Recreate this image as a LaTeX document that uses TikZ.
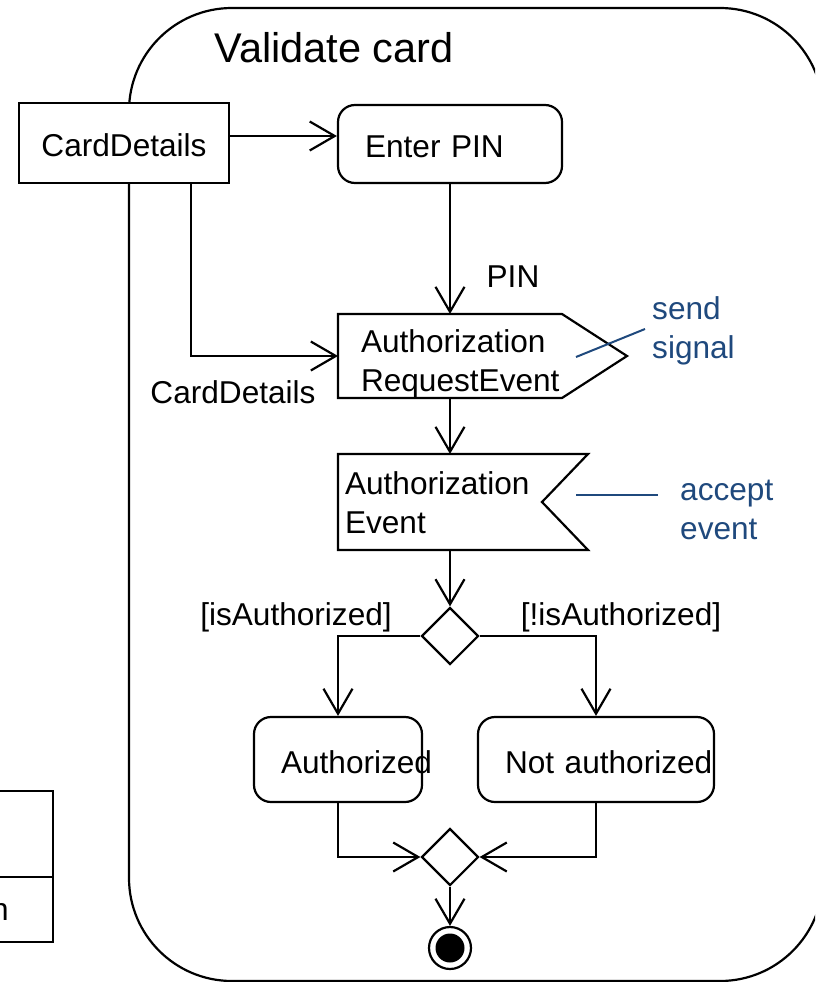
\documentclass[tikz,border=0pt]{standalone}
\usepackage{fontspec}
\setmainfont{Liberation Sans}
\usetikzlibrary{arrows.meta,shapes.geometric}
\definecolor{noteblue}{RGB}{31,73,125}
\hyphenpenalty=10000
\exhyphenpenalty=10000
\begin{document}
\begin{tikzpicture}[x=1pt,y=-1pt,
  every node/.style={font=\fontsize{31.6pt}{39pt}\selectfont},
  ln/.style={line width=2.2pt},
  flow/.style={line width=2.2pt, -{Straight Barb[length=25pt,width=29pt]}},
  objbox/.style={draw, line width=2.2pt, fill=white, rectangle, minimum width=210pt, minimum height=80pt, inner sep=0pt, text height=27pt, text depth=0pt},
  actbox/.style={draw, line width=2.2pt, rectangle, rounded corners=17pt, inner xsep=27pt, inner ysep=0pt, align=left, text height=27pt, text depth=0pt},
  sigbox/.style={rectangle, inner ysep=0pt, outer sep=0pt, align=left},
  dia/.style={draw, line width=2.2pt, diamond, aspect=1, minimum size=57pt, inner sep=0pt},
  guard/.style={inner sep=0pt},
  note/.style={text=noteblue, align=left, inner sep=0pt},
  noteline/.style={draw=noteblue, line width=2pt}
]
\useasboundingbox (0,0) rectangle (815,982);
\clip (0,0) rectangle (815,982);

% activity region
\draw[ln, rounded corners=103pt] (129,8) rectangle (823,981);
\node[inner sep=0pt, font=\fontsize{41.5pt}{48pt}\selectfont] (title) at (334,48) {Validate card};

% partial box at bottom left
\draw[ln] (-60,791) rectangle (53,942);
\draw[ln] (-60,877) -- (53,877);
\node[inner sep=0pt, anchor=base east] (partial) at (9,920) {n};

% nodes
\node[objbox] (card) at (124,143) {CardDetails};
\node[actbox, minimum width=224pt, minimum height=78pt, text width=170pt] (enter) at (450,144) {Enter PIN};
\node[sigbox, minimum width=224pt, minimum height=84pt, inner xsep=23pt, text width=178pt] (req) at (450,356) {\rule{0pt}{38pt}Authorization\\RequestEvent};
\draw[ln] (req.north west) -- (req.north east) -- ([xshift=65pt]req.east) -- (req.south east) -- (req.south west) -- cycle;
\node[sigbox, minimum width=250pt, minimum height=96pt, inner xsep=7pt, text width=236pt] (acc) at (463,502) {\rule{0pt}{25pt}Authorization\\Event};
\draw[ln] (acc.north west) -- (acc.north east) -- ([xshift=-46pt]acc.east) -- (acc.south east) -- (acc.south west) -- cycle;
\node[dia] (dec) at (450,636) {};
\node[actbox, minimum width=168pt, minimum height=85pt, text width=114pt] (auth) at (338,759.5) {Authorized};
\node[actbox, minimum width=236pt, minimum height=85pt, text width=182pt] (nauth) at (596,759.5) {Not~authorized};
\node[dia] (merge) at (450,857) {};
\node[draw, line width=2.2pt, circle, minimum size=42pt, inner sep=0pt] (fin) at (450,948) {};
\fill (fin.center) circle[radius=14.5pt];

% connectors
\draw[flow] ([yshift=7pt]card.east) -- ([yshift=7pt]card.east -| enter.west);
\draw[flow] ([xshift=67pt]card.south) |- (req.west);
\node[guard] (cdlabel) at (233,392) {CardDetails};
\draw[flow] (enter.south) -- (enter.south |- req.north);
\node[guard] (pinlabel) at (513,277) {PIN};
\draw[flow] (enter.south |- req.south) -- (enter.south |- acc.north);
\draw[flow] (acc.south -| dec.north) -- (dec.north);
\draw[flow] (dec.west) -| (auth.north);
\draw[flow] (dec.east) -| (nauth.north);
\node[guard] (g1) at (296,617) {[isAuthorized]};
\node[guard] (g2) at (621,617) {[!isAuthorized]};
\draw[flow] (auth.south) |- (merge.west);
\draw[flow] (nauth.south) |- (merge.east);
\draw[flow] (merge.south) -- (fin.north);

% notes
\node[note, anchor=west] (sendnote) at (652,331) {send\\signal};
\coordinate (sendstart) at (645,329);
\coordinate (sendend) at (576,357);
\draw[noteline] (sendstart) -- (sendend);
\node[note, anchor=west] (accnote) at (680,510) {accept\\event};
\coordinate (accstart) at (658,495);
\coordinate (accend) at (576,495);
\draw[noteline] (accstart) -- (accend);
\end{tikzpicture}
\end{document}
